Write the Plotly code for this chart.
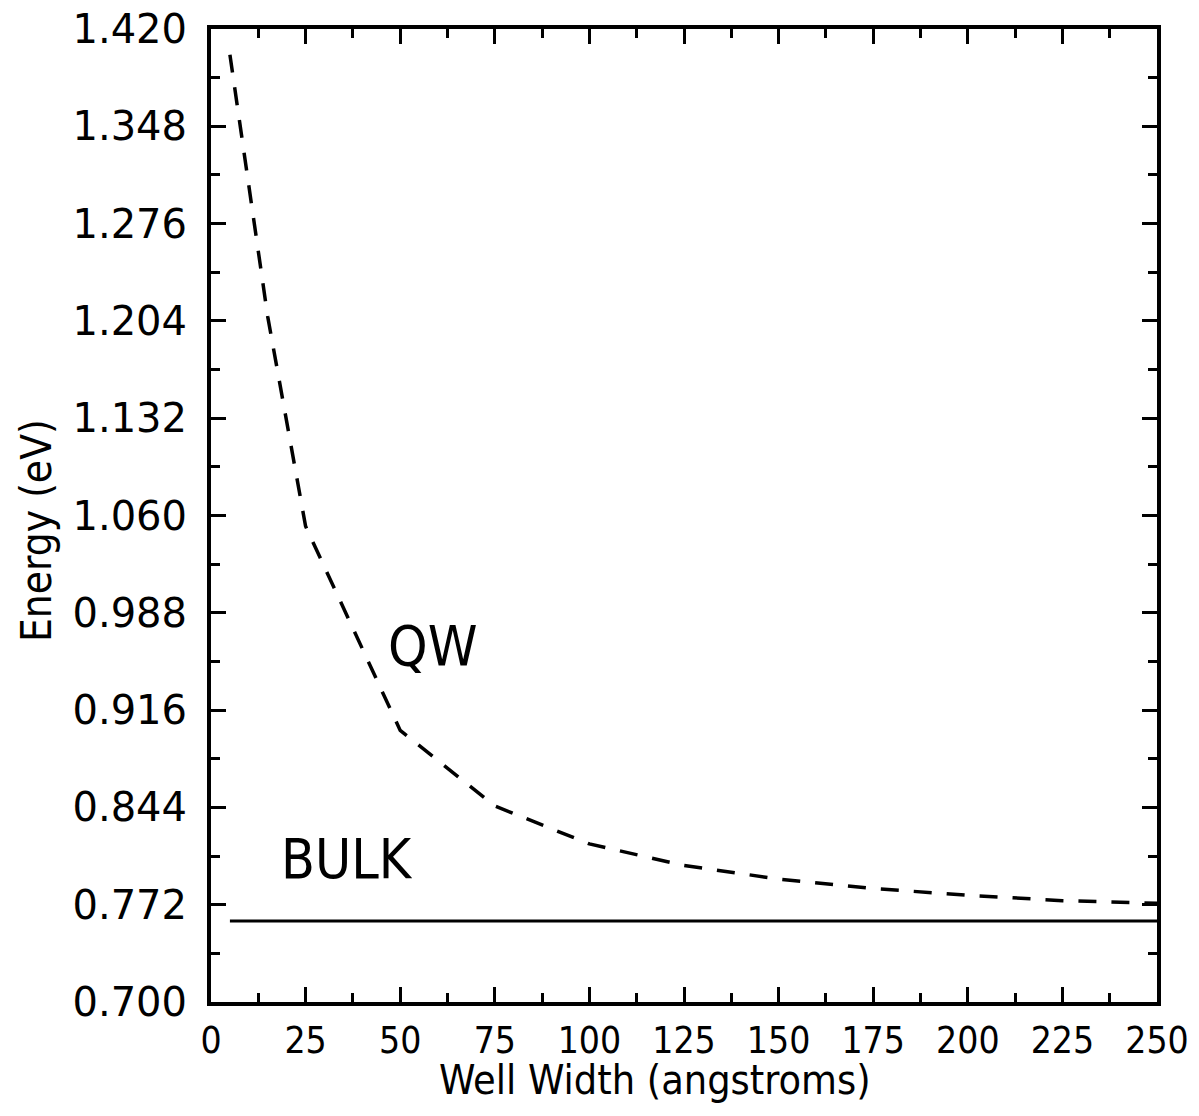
import plotly.graph_objects as go

# Data
well_width = [5, 15, 25, 50, 75, 100, 125, 150, 175, 200, 225, 250]
qw_energy = [1.401, 1.207, 1.052, 0.901, 0.845, 0.817, 0.801, 0.791, 0.784, 0.779, 0.775, 0.773]
bulk_width = [5, 250]
bulk_energy = [0.760, 0.760]

y_ticks = [0.700, 0.772, 0.844, 0.916, 0.988, 1.060, 1.132, 1.204, 1.276, 1.348, 1.420]
y_ticklabels = ["0.700", "0.772", "0.844", "0.916", "0.988", "1.060",
                "1.132", "1.204", "1.276", "1.348", "1.420"]
x_ticks = [0, 25, 50, 75, 100, 125, 150, 175, 200, 225, 250]
x_ticklabels = ["0", "25", "50", "75", "100", "125", "150", "175", "200", "225", "250"]

label_qw = {"text": "QW", "x": 58.5, "y": 0.964}
label_bulk = {"text": "BULK", "x": 36, "y": 0.806}
x_title = "Well Width (angstroms)"
y_title = "Energy (eV)"

COND = "DejaVu Sans Condensed, DejaVu Sans, sans-serif"

fig = go.Figure()
fig.add_trace(go.Scatter(x=well_width, y=qw_energy, mode="lines",
                         line=dict(color="black", width=3.5, dash="18px,15px"),
                         showlegend=False))
fig.add_trace(go.Scatter(x=bulk_width, y=bulk_energy, mode="lines",
                         line=dict(color="black", width=3),
                         showlegend=False))

for lab, size in ((label_qw, 56), (label_bulk, 55)):
    fig.add_annotation(x=lab["x"], y=lab["y"], text=lab["text"], showarrow=False,
                       font=dict(family=COND, size=size, color="black"),
                       xanchor="center", yanchor="middle")

# axis titles as paper-anchored annotations
fig.add_annotation(xref="paper", yref="paper", x=0.469, y=-0.1065, text=x_title,
                   showarrow=False, xanchor="center", yanchor="bottom",
                   font=dict(family=COND, size=41, color="black"))
fig.add_annotation(xref="paper", yref="paper", x=-0.185, y=0.485, text=y_title,
                   showarrow=False, xanchor="center", yanchor="middle", textangle=-90,
                   font=dict(family=COND, size=42, color="black"))

fig.update_layout(
    width=1183, height=1100,
    margin=dict(l=203, r=34, t=21, b=106, autoexpand=False),
    paper_bgcolor="white", plot_bgcolor="white",
    showlegend=False,
)
fig.update_xaxes(
    range=[0, 250], tickmode="array", tickvals=x_ticks, ticktext=x_ticklabels,
    showgrid=False, zeroline=False, automargin=False,
    showline=True, linecolor="black", linewidth=4, mirror="allticks",
    ticks="inside", ticklen=15, tickwidth=3, tickcolor="black",
    minor=dict(dtick=12.5, tick0=0, ticks="inside", ticklen=9, tickwidth=3,
               tickcolor="black", showgrid=False),
    tickfont=dict(family=COND, size=37, color="black"),
    ticklabelstandoff=3, ticklabeloverflow="allow",
)
fig.update_yaxes(
    range=[0.700, 1.420], tickmode="array", tickvals=y_ticks, ticktext=y_ticklabels,
    showgrid=False, zeroline=False, automargin=False,
    showline=True, linecolor="black", linewidth=4, mirror="allticks",
    ticks="inside", ticklen=15, tickwidth=3, tickcolor="black",
    minor=dict(dtick=0.036, tick0=0.700, ticks="inside", ticklen=9, tickwidth=3,
               tickcolor="black", showgrid=False),
    tickfont=dict(family="DejaVu Sans, sans-serif", size=40, color="black"),
    ticklabelstandoff=12, ticklabeloverflow="allow",
)

fig.write_html("out.html")
